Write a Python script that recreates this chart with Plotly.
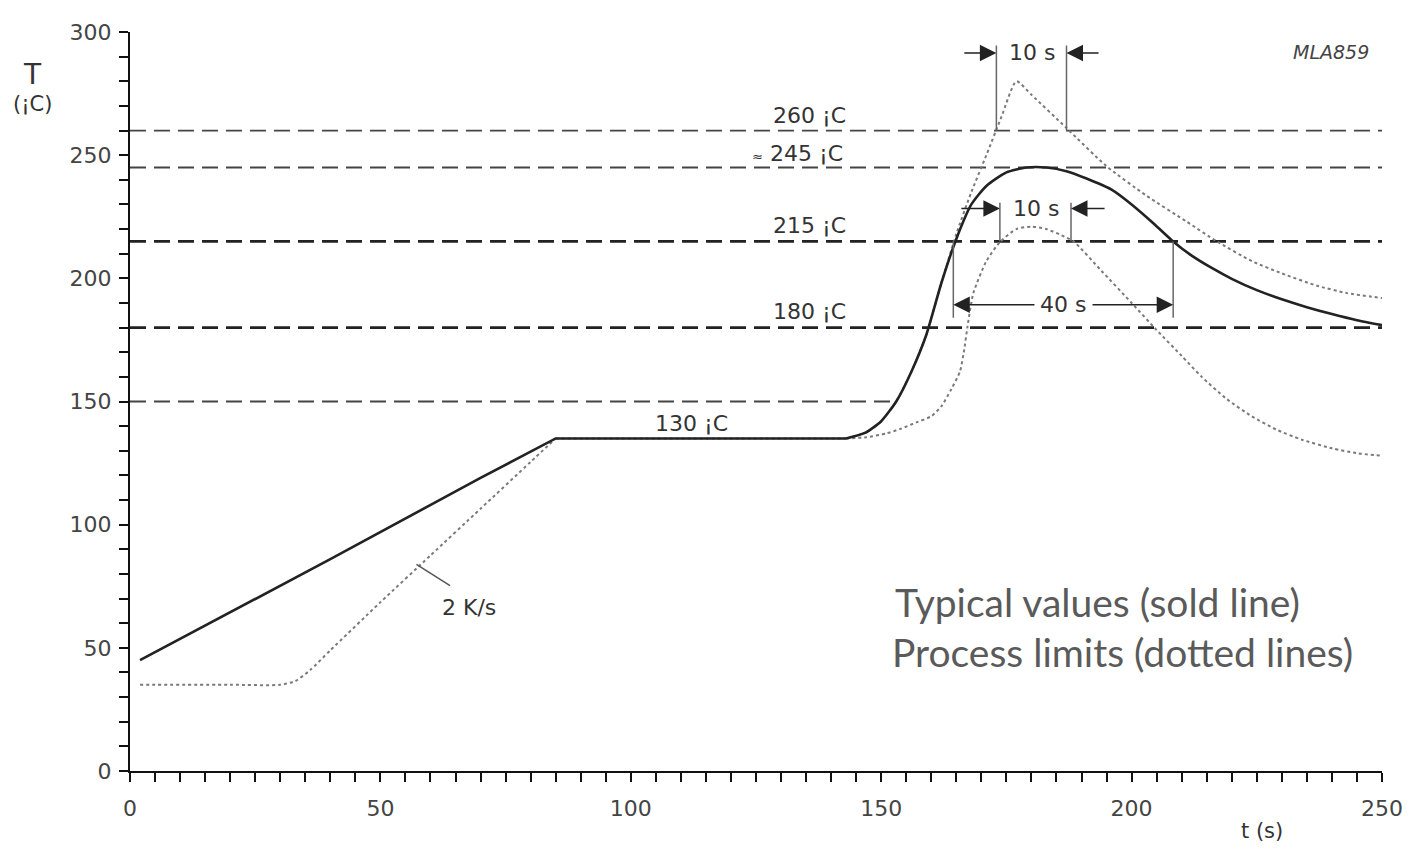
import plotly.graph_objects as go

# ---------------- data ----------------
typ_t = [2, 40, 70, 85, 100, 130, 143, 147, 150, 153, 156, 159, 162, 165, 168, 171, 175, 179,
         183, 187, 191, 196, 200, 204, 208, 212, 216, 220, 225, 230, 235, 240, 245, 250]
typ_T = [45, 86, 119, 135, 135, 135, 135, 137.5, 142, 150, 162, 177, 198, 216, 230, 237.5, 243,
         245, 245, 243.5, 240.5, 236, 230, 223, 215.5, 209.2, 204.2, 199.8, 195.2, 191.5, 188.3,
         185.5, 183, 181]

up_t = [2, 20, 30, 33, 36, 40, 50, 60, 70, 80, 85, 100, 130, 143, 147, 150, 153, 156, 159, 162,
        165, 168, 171, 174, 177, 180, 187, 195, 203, 211, 217, 224, 230, 237, 243, 250]
up_T = [35, 35, 35, 36.5, 41, 49, 68.5, 87.5, 106.5, 125.5, 135, 135, 135, 135, 137.5, 142, 150,
        162, 177, 198, 218, 235, 250, 265.5, 280, 274.5, 261, 245.5, 233.5, 223, 215, 207,
        202, 197, 194, 192]

lo_t = [143, 147, 151, 154, 157, 160, 162, 164, 165.7, 166.5, 167.2, 168.4, 171, 173.7, 177,
        180, 183, 186, 188.4, 194, 200, 205, 210, 214, 219, 224, 229, 234, 240, 245, 250]
lo_T = [135, 135.5, 137, 139, 141.5, 144, 148, 155, 162, 170, 180, 194, 207, 214.7, 220, 221,
        220, 217.5, 215, 203, 190, 179, 168.5, 160, 151, 144, 138.5, 134.5, 131, 129, 128]

ref_levels = [260, 245, 215, 180, 150]
ref_ends = [250, 250, 250, 250, 153]
ref_labels = ["260 ¡C", "<span style='font-size:13px'>≈</span> 245 ¡C", "215 ¡C", "180 ¡C"]

y_tickvals = list(range(0, 301, 10))
y_ticktext = [str(v) if v % 50 == 0 else "" for v in y_tickvals]
x_tickvals = list(range(0, 251, 5))
x_ticktext = [str(v) if v % 50 == 0 else "" for v in x_tickvals]

# dimension markers (t values in s, T values in °C)
top_dim = dict(t1=173, t2=187, base=260, top=294.5, arrow=291.5, tail_l=166.3, tail_r=193.7, label_t=180.2)
mid_dim = dict(t1=173.7, t2=187.9, base=215, top=230.7, arrow=228.3, tail_l=165.7, tail_r=194.9, label_t=181)
span_dim = dict(t1=164.4, t2=208.3, base=215, bottom=184, arrow=189.3, label_t=186.4)

# ---------------- figure ----------------
fig = go.Figure()

dot_line = dict(color="#7a7a7a", width=2, dash="dot")
i85 = up_t.index(85)
i143 = up_t.index(143)
fig.add_trace(go.Scatter(x=up_t[:i85 + 1], y=up_T[:i85 + 1], mode="lines",
                         line=dict(dot_line, shape="spline", smoothing=0.6), hoverinfo="skip"))
fig.add_trace(go.Scatter(x=up_t[i85:i143 + 1], y=up_T[i85:i143 + 1], mode="lines",
                         line=dict(dot_line, shape="linear"), hoverinfo="skip"))
fig.add_trace(go.Scatter(x=up_t[i143:], y=up_T[i143:], mode="lines",
                         line=dict(dot_line, shape="spline", smoothing=0.6), hoverinfo="skip"))
fig.add_trace(go.Scatter(x=lo_t, y=lo_T, mode="lines",
                         line=dict(dot_line, shape="spline", smoothing=0.6), hoverinfo="skip"))

j143 = typ_t.index(143)
solid = dict(color="#222222", width=2.6)
fig.add_trace(go.Scatter(x=typ_t[:j143 + 1], y=typ_T[:j143 + 1], mode="lines",
                         line=dict(solid, shape="linear"), hoverinfo="skip"))
fig.add_trace(go.Scatter(x=typ_t[j143:], y=typ_T[j143:], mode="lines",
                         line=dict(solid, shape="spline", smoothing=0.6), hoverinfo="skip"))

shapes = []
for lvl, end in zip(ref_levels, ref_ends):
    heavy = lvl in (215, 180)
    shapes.append(dict(type="line", xref="x", yref="y", x0=0, x1=end, y0=lvl, y1=lvl,
                       line=dict(color="#222222" if heavy else "#444444",
                                 width=2.6 if heavy else 1.8, dash="16px,8px"),
                       layer="below"))

dimc = "#666666"
for d in (top_dim, mid_dim):
    for tt in (d["t1"], d["t2"]):
        shapes.append(dict(type="line", xref="x", yref="y", x0=tt, x1=tt, y0=d["base"], y1=d["top"],
                           line=dict(color=dimc, width=1.5)))
for tt in (span_dim["t1"], span_dim["t2"]):
    shapes.append(dict(type="line", xref="x", yref="y", x0=tt, x1=tt, y0=span_dim["base"],
                       y1=span_dim["bottom"], line=dict(color=dimc, width=1.5)))
# leader for 2 K/s
shapes.append(dict(type="line", xref="x", yref="y", x0=57.2, x1=63.9, y0=83.9, y1=75.3,
                   line=dict(color="#555555", width=1.5)))

ann = []
FONT = "DejaVu Sans, Arial, sans-serif"
lab_font = dict(family=FONT, size=22, color="#333333")

def arrow(x_head, y, x_tail):
    return dict(x=x_head, y=y, ax=x_tail, ay=y, xref="x", yref="y", axref="x", ayref="y",
                text="", showarrow=True, arrowhead=2, arrowsize=2.2, arrowwidth=1.5,
                arrowcolor="#222222")

for d in (top_dim, mid_dim):
    ann.append(arrow(d["t1"], d["arrow"], d["tail_l"]))
    ann.append(arrow(d["t2"], d["arrow"], d["tail_r"]))
    ann.append(dict(x=d["label_t"], y=d["arrow"], xref="x", yref="y", text="10 s",
                    showarrow=False, font=lab_font))
# 40 s double arrow with gap for text
ann.append(arrow(span_dim["t1"], span_dim["arrow"], span_dim["label_t"] - 5.5))
ann.append(arrow(span_dim["t2"], span_dim["arrow"], span_dim["label_t"] + 5.5))
ann.append(dict(x=span_dim["label_t"], y=span_dim["arrow"], xref="x", yref="y", text="40 s",
                showarrow=False, font=lab_font))

ref_label_pos = [(135.6, 266.2), (133.2, 250.7), (135.6, 221.5), (135.6, 186.6)]
for txt, (lx, ly) in zip(ref_labels, ref_label_pos):
    ann.append(dict(x=lx, y=ly, xref="x", yref="y", text=txt, showarrow=False, font=lab_font))
ann.append(dict(x=112.2, y=141, xref="x", yref="y", text="130 ¡C", showarrow=False, font=lab_font))
ann.append(dict(x=67.6, y=66.5, xref="x", yref="y", text="2 K/s", showarrow=False,
                font=dict(family=FONT, size=22, color="#333333")))

ann.append(dict(x=239.8, y=291.9, xref="x", yref="y", text="<i>MLA859</i>", showarrow=False,
                font=dict(family=FONT, size=19, color="#444444")))

big = dict(family="Lato, Open Sans, sans-serif", size=39, color="#5a5a5a")
ann.append(dict(x=152.4, y=68.5, xref="x", yref="y", text="Typical values (sold line)",
                showarrow=False, xanchor="left", font=big))
ann.append(dict(x=151.8, y=48.5, xref="x", yref="y", text="Process limits (dotted lines)",
                showarrow=False, xanchor="left", font=big))

ann.append(dict(x=-0.0775, y=0.943, xref="paper", yref="paper", text="T", showarrow=False,
                xanchor="center", yanchor="middle",
                font=dict(family=FONT, size=28, color="#333333")))
ann.append(dict(x=-0.0775, y=0.903, xref="paper", yref="paper", text="(¡C)", showarrow=False,
                xanchor="center", yanchor="middle",
                font=dict(family=FONT, size=21, color="#333333")))
ann.append(dict(x=0.904, y=-0.0814, xref="paper", yref="paper", text="t (s)", showarrow=False,
                xanchor="center", yanchor="middle",
                font=dict(family=FONT, size=21, color="#333333")))

tickfont = dict(family=FONT, size=22, color="#444444")
# page has an 8px body margin; margins below compensate so the plot area lands at
# x 130..1382, y 22..771 of the window
fig.update_layout(
    width=1422, height=851,
    margin=dict(l=122, r=48, t=14, b=88),
    paper_bgcolor="white", plot_bgcolor="white",
    showlegend=False,
    shapes=shapes, annotations=ann,
    xaxis=dict(range=[0, 250], showgrid=False, zeroline=False, showline=True,
               linecolor="#111111", linewidth=2, ticks="outside", ticklen=9, tickwidth=2,
               tickcolor="#111111", tickvals=x_tickvals, ticktext=x_ticktext,
               tickfont=tickfont, ticklabelstandoff=8),
    yaxis=dict(range=[0, 300], showgrid=False, zeroline=False, showline=True,
               linecolor="#111111", linewidth=2, ticks="outside", ticklen=9, tickwidth=2,
               tickcolor="#111111", tickvals=y_tickvals, ticktext=y_ticktext,
               tickfont=tickfont, ticklabelstandoff=3),
)

fig.write_html("out.html")
